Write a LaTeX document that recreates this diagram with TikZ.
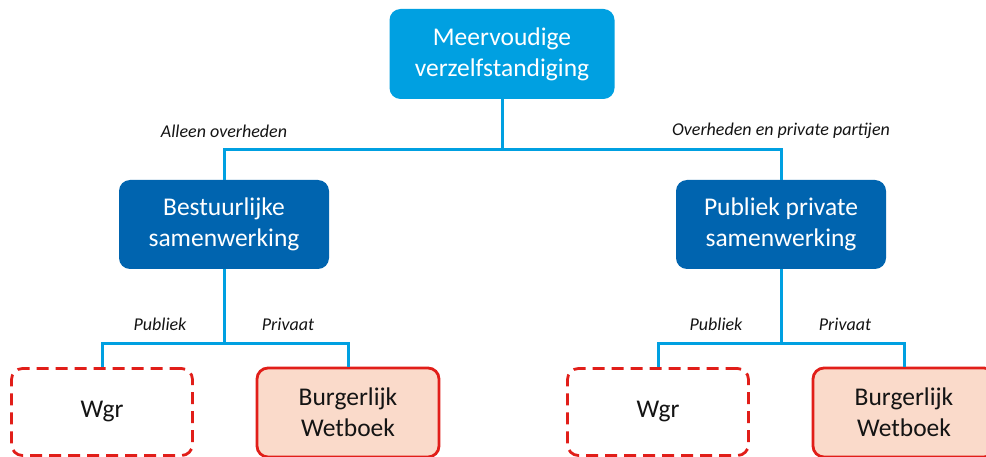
\documentclass[tikz,border=0pt]{standalone}
\usepackage{fontspec}
\setmainfont{Carlito}
\definecolor{topblue}{RGB}{0,160,225}
\definecolor{midblue}{RGB}{0,100,175}
\definecolor{linecyan}{RGB}{0,160,225}
\definecolor{redline}{RGB}{225,30,25}
\definecolor{peach}{RGB}{250,218,202}
\definecolor{txt}{RGB}{20,20,20}
\begin{document}
\begin{tikzpicture}[x=1pt,y=-1pt,
  box/.style={rounded corners=11pt, align=center, inner sep=0pt,
    font=\fontsize{25.5}{31}\selectfont},
  topbox/.style={box, fill=topblue, text=white, minimum width=225pt, minimum height=90pt},
  midbox/.style={box, fill=midblue, text=white, minimum width=210pt, minimum height=89pt},
  wgrbox/.style={box, draw=redline, line width=2.8pt, dash pattern=on 12pt off 7pt, fill=white, text=txt, minimum width=181pt, minimum height=87pt},
  bwbox/.style={box, draw=redline, line width=2.8pt, fill=peach, text=txt, minimum width=182pt, minimum height=89pt},
  conn/.style={draw=linecyan, line width=3pt},
  lbl/.style={font=\fontsize{18}{20}\selectfont\itshape, text=txt}
]
\clip (0,0) rectangle (986,457);
\fill[white] (0,0) rectangle (986,457);
% nodes
\node[topbox] (top) at (502,54) {Meervoudige\\verzelfstandiging};
\node[midbox] (bs) at (224,224.5) {Bestuurlijke\\samenwerking};
\node[midbox] (pp) at (781,224.5) {Publiek private\\samenwerking};
\node[wgrbox] (w1) at (102,412) {Wgr};
\node[bwbox] (b1) at (348,412.5) {Burgerlijk\\Wetboek};
\node[wgrbox] (w2) at (658,412) {Wgr};
\node[bwbox] (b2) at (904,412.5) {Burgerlijk\\Wetboek};
% coordinates
\coordinate (j0) at (502,150);
\coordinate (j1) at (224,343);
\coordinate (j2) at (781,343);
% connectors
\draw[conn] (top.south) -- (j0);
\draw[conn] (bs.north) |- (j0) -| (pp.north);
\draw[conn] (bs.south) -- (j1);
\draw[conn] (w1.north) |- (j1) -| (b1.north);
\draw[conn] (pp.south) -- (j2);
\draw[conn] (w2.north) |- (j2) -| (b2.north);
% labels
\node[lbl] (l1) at (224,131) {Alleen overheden};
\node[lbl] (l2) at (781,131) {Overheden en private partijen};
\node[lbl] (l3) at (160,324) {Publiek};
\node[lbl] (l4) at (288,324) {Privaat};
\node[lbl] (l5) at (716,324) {Publiek};
\node[lbl] (l6) at (845,324) {Privaat};
\end{tikzpicture}
\end{document}
